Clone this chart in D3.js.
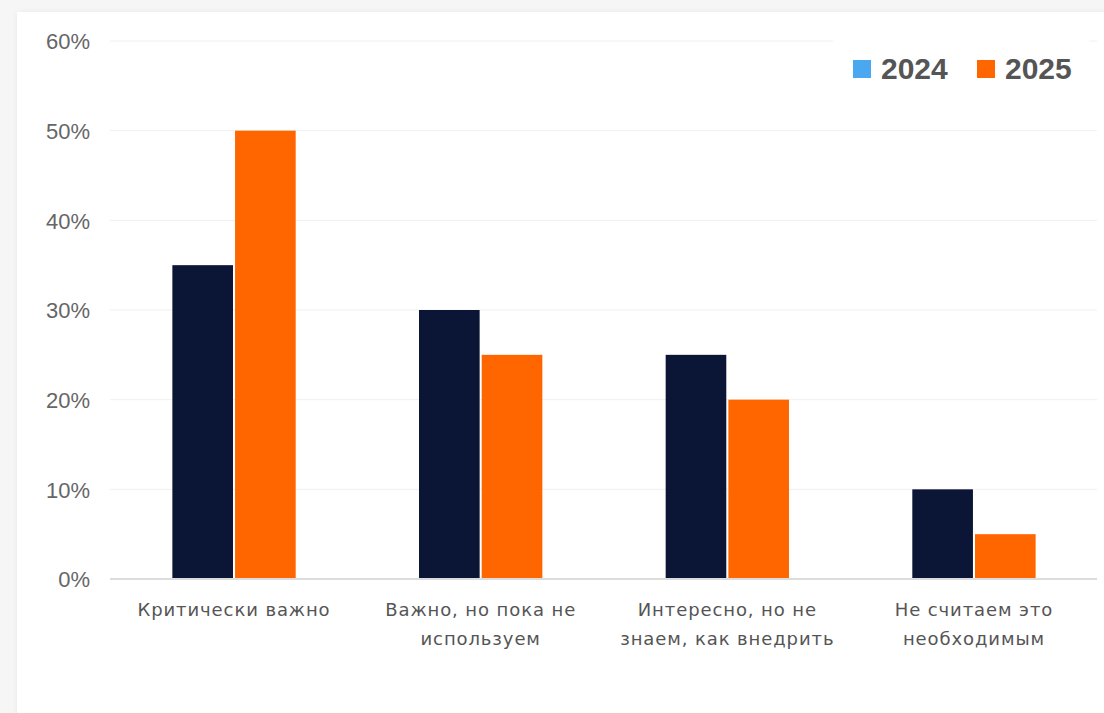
<!DOCTYPE html>
<html><head><meta charset="utf-8">
<script src="https://cdn.jsdelivr.net/npm/d3@7"></script>
<style>
html,body{margin:0;padding:0;background:#f6f6f6;width:1104px;height:713px;overflow:hidden;}
#card{position:absolute;left:17px;top:12px;width:1100px;height:720px;background:#fff;box-shadow:0 0 6px rgba(0,0,0,0.06);}
svg{position:absolute;left:0;top:0;}
</style></head><body>
<div id="card"></div>
<svg id="chart" width="1104" height="713"></svg>
<script>
const categories = [["Критически важно"],["Важно, но пока не","используем"],["Интересно, но не","знаем, как внедрить"],["Не считаем это","необходимым"]];
const seriesNames = ["2024","2025"];
const values2024 = [35,30,25,10];
const values2025 = [50,25,20,5];
const yTicks = [0,10,20,30,40,50,60];
const barColors = ["#0b1535","#ff6600"];
const legendColors = ["#4aa8f0","#ff6600"];

const svg = d3.select("#chart");
const x0 = d3.scaleBand().domain(d3.range(categories.length)).range([110.7,1097.3]).padding(0);
const step = x0.step();
const x1 = d3.scaleBand().domain(seriesNames).range([step*0.25, step*0.75]).paddingInner(0.033);
const y = d3.scaleLinear().domain([0,60]).range([579,41]);

// grid
svg.append("g").selectAll("line").data(yTicks.filter(d=>d>0)).join("line")
  .attr("x1",110).attr("x2",1097).attr("y1",d=>y(d)).attr("y2",d=>y(d))
  .attr("stroke","#f0f0f0").attr("stroke-width",1);

// y axis labels
const yAxis = d3.axisLeft(y).tickValues(yTicks).tickFormat(d=>d+"%").tickSize(0).tickPadding(0);
const ya = svg.append("g").attr("transform","translate(90,0)").call(yAxis);
ya.select(".domain").remove();
ya.selectAll("text").attr("font-family","Liberation Sans, Arial, sans-serif").attr("font-size",22).attr("fill","#666").attr("dy","0.36em");

// bars
const data = categories.map((c,i)=>({i, vals:[values2024[i],values2025[i]]}));
const grp = svg.append("g").selectAll("g").data(data).join("g").attr("transform",d=>`translate(${x0(d.i)},0)`);
grp.selectAll("rect").data(d=>d.vals.map((v,k)=>({k,v}))).join("rect")
  .attr("x",d=>x1(seriesNames[d.k])).attr("width",x1.bandwidth())
  .attr("y",d=>y(d.v)).attr("height",d=>y(0)-y(d.v))
  .attr("fill",d=>barColors[d.k]);

// x axis line
svg.append("line").attr("x1",110).attr("x2",1097).attr("y1",579).attr("y2",579).attr("stroke","#dcdcdc").attr("stroke-width",2);

// category labels
const lab = svg.append("g").selectAll("text").data(categories).join("text")
  .attr("x",(d,i)=>x0(i)+step/2).attr("y",616)
  .attr("text-anchor","middle").attr("font-family","DejaVu Sans, sans-serif").attr("font-size",18)
  .attr("letter-spacing","0.9px").attr("fill","#555");
lab.selectAll("tspan").data(d=>d).join("tspan").attr("x",function(){return this.parentNode.getAttribute("x");})
  .attr("dy",(d,j)=>j===0?0:29).text(d=>d);

// legend
const lg = svg.append("g");
lg.append("rect").attr("x",833).attr("y",30).attr("width",256).attr("height",70).attr("fill","#fff");
const legX = [853,977];
seriesNames.forEach((s,k)=>{
  lg.append("rect").attr("x",legX[k]).attr("y",60).attr("width",18).attr("height",18).attr("fill",legendColors[k]);
  lg.append("text").attr("x",legX[k]+28).attr("y",79).attr("font-family","Liberation Sans, Arial, sans-serif")
    .attr("font-weight","bold").attr("font-size",30).attr("fill","#555").text(s);
});
</script>
</body></html>
